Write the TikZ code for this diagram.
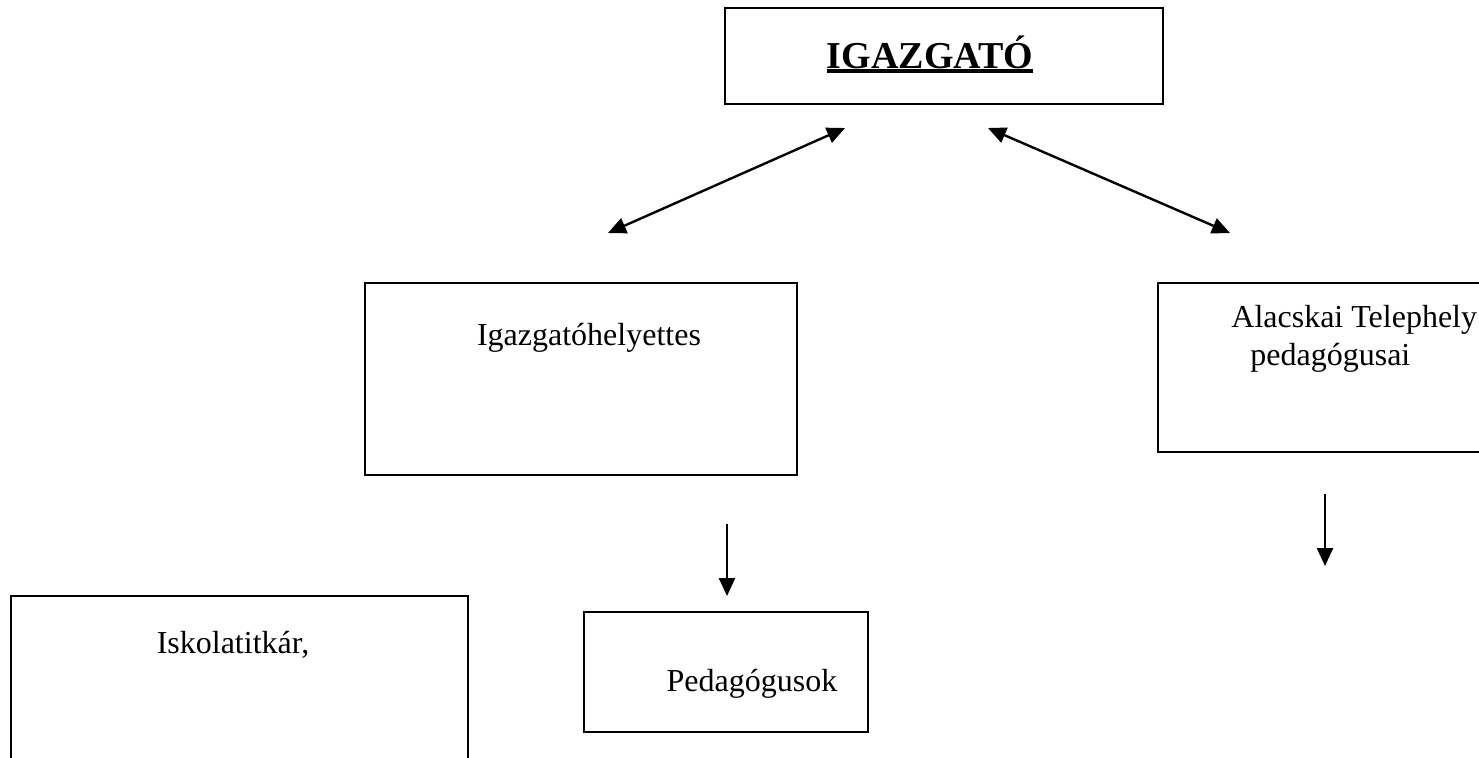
\documentclass[tikz,border=0pt]{standalone}
\usepackage{fontspec}
\setmainfont{Liberation Serif}
\usetikzlibrary{arrows.meta}

\newcommand{\thickul}[1]{\setbox0\hbox{#1}\rlap{\rule[-2.6pt]{\wd0}{1.9pt}}\box0}

\tikzset{
  box/.style={draw, line width=0.9pt, inner sep=0pt, outer sep=0pt},
  label/.style={font=\fontsize{16}{19}\selectfont, inner sep=0pt},
  link/.style={line width=1.2pt, -{Triangle[length=9pt,width=8pt]}},
  dlink/.style={line width=1.2pt, {Triangle[length=9pt,width=8pt]}-{Triangle[length=9pt,width=8pt]}}
}

\begin{document}
\begin{tikzpicture}[x=0.5pt,y=-0.5pt]
\useasboundingbox (0,0) rectangle (1479,757);
\clip (0,0) rectangle (1479,757);

% boxes
\node[box, minimum width=219pt, minimum height=48pt] (igazgato) at (944,56) {};
\node[box, minimum width=216pt, minimum height=96pt] (helyettes) at (581,379) {};
\node[box, minimum width=201pt, minimum height=84.5pt] (telephely) at (1359,367.5) {};
\node[box, minimum width=228.5pt, minimum height=112pt] (titkar) at (239.5,708) {};
\node[box, minimum width=142pt, minimum height=60pt] (pedagogus) at (726,672) {};

% texts
\node[label, font=\fontsize{19}{23}\selectfont\bfseries, anchor=base] (tIgazgato) at (930,68) {\thickul{IGAZGATÓ}};
\node[label, anchor=base] (tHelyettes) at (589,345) {Igazgatóhelyettes};
\node[label, anchor=base west] (tTelep1) at (1231,327) {Alacskai Telephely};
\node[label, anchor=base west] (tTelep2) at (1250,365) {pedagógusai};
\node[label, anchor=base] (tTitkar) at (233,653) {Iskolatitkár,};
\node[label, anchor=base] (tPedagogus) at (752,691) {Pedagógusok};

% arrow ends
\coordinate (bl) at (608,233);
\coordinate (tl) at (845,128);
\coordinate (tr) at (988,128);
\coordinate (br) at (1230,233);
\coordinate (m1) at (727,524);
\coordinate (m2) at (727,596);
\coordinate (r1) at (1325,494);
\coordinate (r2) at (1325,566);

\draw[dlink] (bl) -- (tl);
\draw[dlink] (tr) -- (br);
\draw[link] (m1) -- (m2);
\draw[link] (r1) -- (r2);

\end{tikzpicture}
\end{document}
